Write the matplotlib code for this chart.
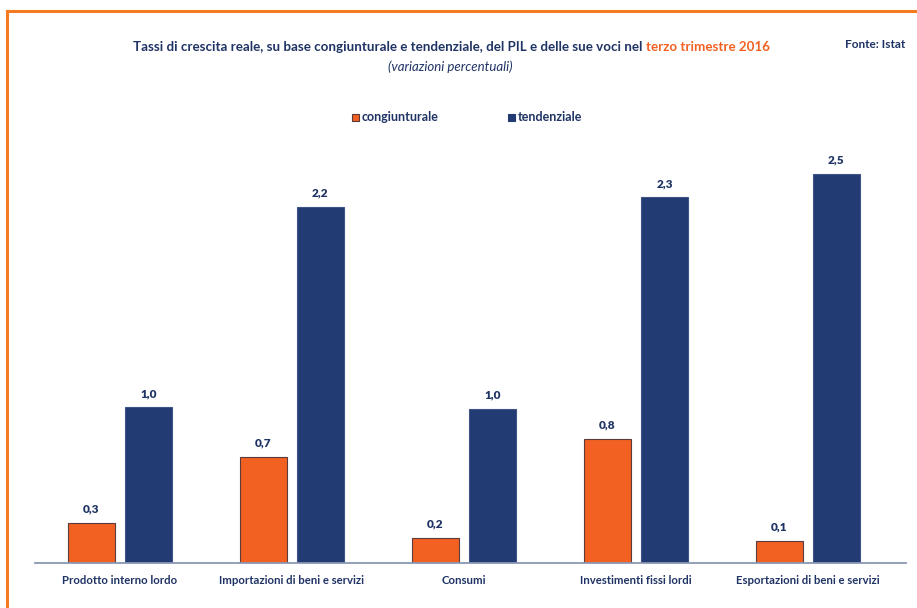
import numpy as np
import matplotlib.pyplot as plt
from matplotlib.patches import Rectangle

categories = ['Prodotto interno lordo', 'Importazioni di beni e servizi', 'Consumi',
              'Investimenti fissi lordi', 'Esportazioni di beni e servizi']
congiunturale = [0.26, 0.68, 0.16, 0.80, 0.14]
tendenziale = [1.0, 2.29, 0.99, 2.35, 2.5]
lab_cong = ['0,3', '0,7', '0,2', '0,8', '0,1']
lab_tend = ['1,0', '2,2', '1,0', '2,3', '2,5']

ORANGE = '#F26122'
NAVY = '#233B73'
TXT = '#1F3364'

plt.rcParams['font.family'] = ['Lato', 'DejaVu Sans']

W, H = 917, 608
fig = plt.figure(figsize=(W / 100, H / 100), dpi=100)

# orange frame (open on right and bottom)
fig.add_artist(plt.Line2D([7 / W, 1.0], [1 - 11 / H, 1 - 11 / H], color='#F47B20', lw=2.2))
fig.add_artist(plt.Line2D([7 / W, 7 / W], [0, 1 - 11 / H], color='#F47B20', lw=2.2))

ax = fig.add_axes([35 / W, 45 / H, 871 / W, 420 / H])
x = np.arange(len(categories))
bw = 47 / 172
off = 28.5 / 172
ax.bar(x - off, congiunturale, bw, color=ORANGE, edgecolor='#5A3A3A', lw=0.8, zorder=2)
ax.bar(x + off, tendenziale, bw, color=NAVY, edgecolor='#3F5585', lw=0.8, zorder=2)

for i in range(len(categories)):
    ax.annotate(lab_cong[i], (x[i] - off, congiunturale[i]), xytext=(0, 6), textcoords='offset points',
                ha='center', va='bottom', fontsize=8.5, fontweight='heavy', color=TXT)
    ax.annotate(lab_tend[i], (x[i] + off, tendenziale[i]), xytext=(0, 6), textcoords='offset points',
                ha='center', va='bottom', fontsize=8.5, fontweight='heavy', color=TXT)

ax.set_xlim(-0.494, 4.57)
ax.set_ylim(0, 2.7)
for s in ['top', 'right', 'left']:
    ax.spines[s].set_visible(False)
ax.spines['bottom'].set_color('#8A96B4')
ax.spines['bottom'].set_linewidth(1.3)
ax.set_yticks([])
ax.set_xticks(x)
ax.set_xticklabels(categories, fontsize=8.2, fontweight='bold', color=TXT)
ax.tick_params(axis='x', length=0, pad=9)

# title, two colours
fig.text(642 / W, 1 - 47 / H, 'Tassi di crescita reale, su base congiunturale e tendenziale, del PIL e delle sue voci nel',
         ha='right', va='center', fontsize=9.65, fontweight='bold', color=TXT)
fig.text(646 / W, 1 - 47 / H, 'terzo trimestre 2016', ha='left', va='center',
         fontsize=9.65, fontweight='bold', color=ORANGE)
fig.text(450 / W, 1 - 67 / H, '(variazioni percentuali)', ha='center', va='center',
         fontsize=9.5, style='italic', color=TXT)
fig.text(905 / W, 1 - 44 / H, 'Fonte: Istat', ha='right', va='center',
         fontsize=8.5, fontweight='bold', color=TXT)

# legend
for sx, lab, col, ec in [(352, 'congiunturale', ORANGE, '#5A3A3A'), (508, 'tendenziale', NAVY, NAVY)]:
    fig.add_artist(Rectangle((sx / W, 1 - 121 / H), 7 / W, 7 / H, transform=fig.transFigure,
                             facecolor=col, edgecolor=ec, lw=0.8))
    fig.text((sx + 10) / W, 1 - 117 / H, lab, ha='left', va='center',
             fontsize=9, fontweight='bold', color=TXT)

fig.savefig('out.png', dpi=100)
